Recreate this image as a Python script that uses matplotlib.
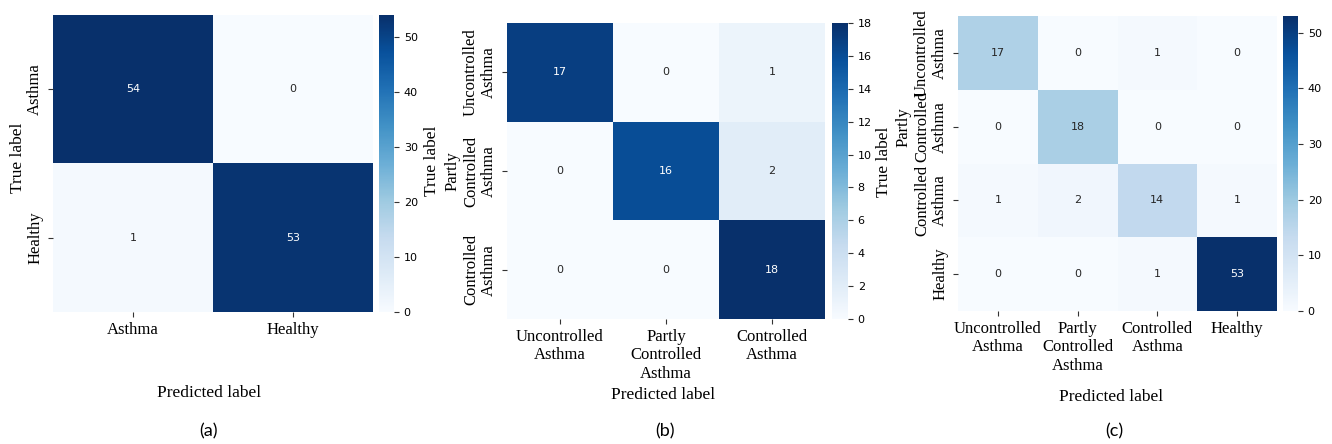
import numpy as np
import matplotlib
matplotlib.use('Agg')
import matplotlib.pyplot as plt
from matplotlib import colors

# class names per panel
labels_a = ['Asthma', 'Healthy']
labels_b = ['Uncontrolled\nAsthma', 'Partly\nControlled\nAsthma', 'Controlled\nAsthma']
labels_c = ['Uncontrolled\nAsthma', 'Partly\nControlled\nAsthma', 'Controlled\nAsthma', 'Healthy']

# confusion matrices (rows = true, cols = predicted)
cm_a = [[54, 0],
        [1, 53]]
cm_b = [[17, 0, 1],
        [0, 16, 2],
        [0, 0, 18]]
cm_c = [[17, 0, 1, 0],
        [0, 18, 0, 0],
        [1, 2, 14, 1],
        [0, 0, 1, 53]]

cbar_ticks_a = [0, 10, 20, 30, 40, 50]
cbar_ticks_b = [0, 2, 4, 6, 8, 10, 12, 14, 16, 18]
cbar_ticks_c = [0, 10, 20, 30, 40, 50]

W, H = 1332, 444
SERIF = 'Liberation Serif'
cmap = plt.get_cmap('Blues')

fig = plt.figure(figsize=(W / 100, H / 100), dpi=100)


def box(x0, x1, y0, y1):
    # pixel box -> figure fraction rect
    return [x0 / W, 1 - y1 / H, (x1 - x0) / W, (y1 - y0) / H]


def draw_cm(cm, names, cbar_ticks, hm_box, cb_box):
    data = np.array(cm, dtype=float)
    n = data.shape[0]
    norm = colors.Normalize(vmin=data.min(), vmax=data.max())
    ax = fig.add_axes(box(*hm_box))
    mesh = ax.pcolormesh(data, cmap=cmap, norm=norm)
    ax.set_xlim(0, n)
    ax.set_ylim(n, 0)
    for s in ax.spines.values():
        s.set_visible(False)
    for i in range(n):
        for j in range(n):
            rgba = cmap(norm(data[i, j]))
            lum = 0.2126 * rgba[0] + 0.7152 * rgba[1] + 0.0722 * rgba[2]
            ax.text(j + 0.5, i + 0.5, str(int(data[i, j])), ha='center', va='center',
                    fontsize=8, family='DejaVu Sans',
                    color='0.15' if lum > 0.408 else 'white')
    ax.set_xticks(np.arange(n) + 0.5)
    ax.set_yticks(np.arange(n) + 0.5)
    ax.set_xticklabels(names, fontsize=12, family=SERIF)
    ax.set_yticklabels(names, fontsize=12, family=SERIF, rotation=90, va='center',
                       ha='right', multialignment='center')
    ax.tick_params(length=3.5, width=0.8, color='0.2')

    cax = fig.add_axes(box(*cb_box))
    cb = fig.colorbar(mesh, cax=cax)
    cb.outline.set_visible(False)
    cb.set_ticks(cbar_ticks)
    cax.tick_params(labelsize=8, length=3.5, width=0.8, color='0.2')
    return ax


draw_cm(cm_a, labels_a, cbar_ticks_a, (53, 373, 15, 312), (379, 394, 15, 312))
draw_cm(cm_b, labels_b, cbar_ticks_b, (507, 825, 23, 319), (832, 848, 23, 319))
draw_cm(cm_c, labels_c, cbar_ticks_c, (958, 1277, 16, 311), (1283, 1298, 16, 311))

# axis titles
for x, y in [(209, 393), (663, 395), (1111, 397)]:
    fig.text(x / W, 1 - y / H, 'Predicted label', ha='center', va='center',
             fontsize=12.5, family=SERIF)
for x, y in [(18, 158), (432, 161), (884, 162)]:
    fig.text(x / W, 1 - y / H, 'True label', ha='center', va='center',
             fontsize=12.5, family=SERIF, rotation=90)
for x, t in [(209, '(a)'), (665, '(b)'), (1114, '(c)')]:
    fig.text(x / W, 1 - 431 / H, t, ha='center', va='center', fontsize=13, family='Lato')

fig.savefig('out.png', dpi=100)
